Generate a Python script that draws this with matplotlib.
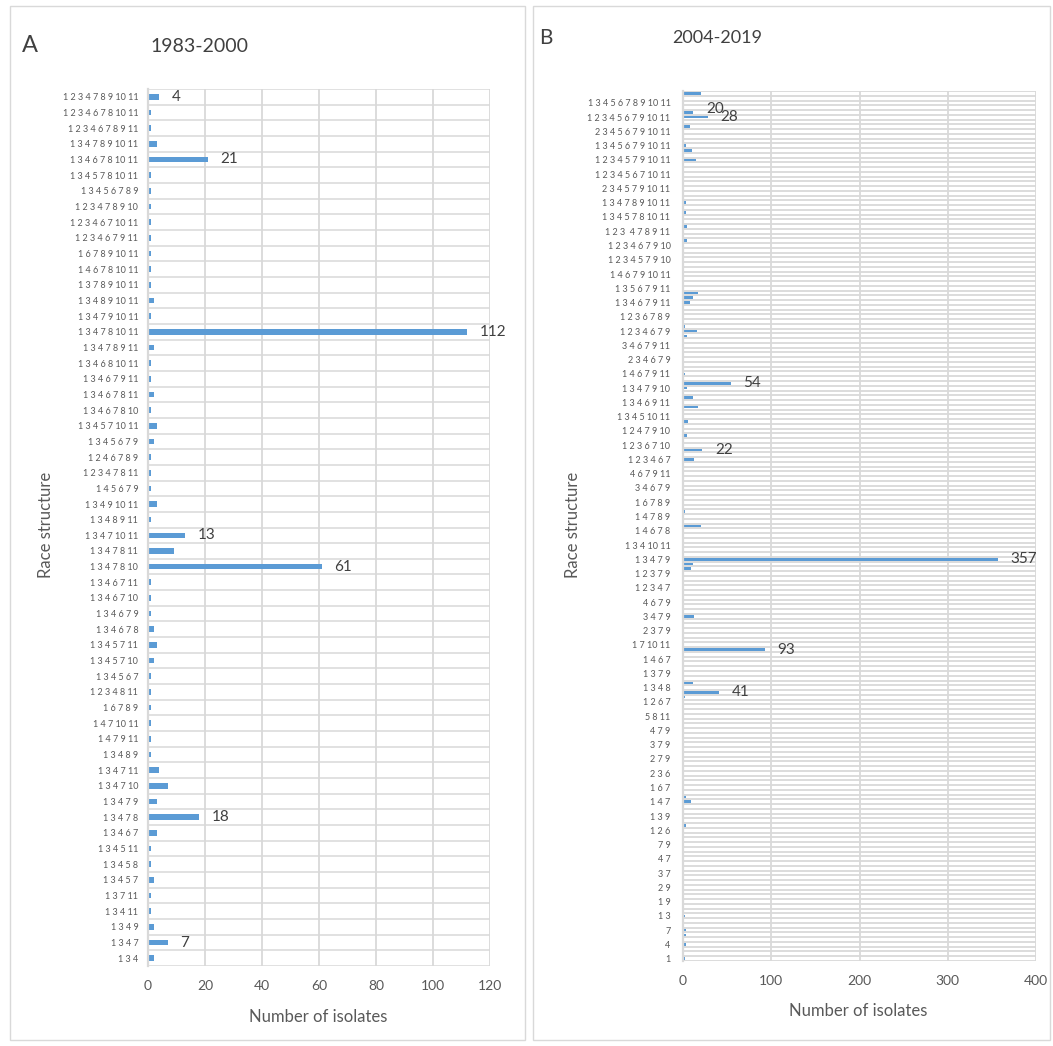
import matplotlib
matplotlib.use("Agg")
import matplotlib.pyplot as plt
import numpy as np
from matplotlib.patches import Rectangle

plt.rcParams['font.family'] = ['Lato', 'DejaVu Sans']

# Panel A, 1983-2000 (bottom to top)
races_a = [
    "1 3 4", "1 3 4 7", "1 3 4 9", "1 3 4 11", "1 3 7 11", "1 3 4 5 7",
    "1 3 4 5 8", "1 3 4 5 11", "1 3 4 6 7", "1 3 4 7 8", "1 3 4 7 9",
    "1 3 4 7 10", "1 3 4 7 11", "1 3 4 8 9", "1 4 7 9 11", "1 4 7 10 11",
    "1 6 7 8 9", "1 2 3 4 8 11", "1 3 4 5 6 7", "1 3 4 5 7 10",
    "1 3 4 5 7 11", "1 3 4 6 7 8", "1 3 4 6 7 9", "1 3 4 6 7 10",
    "1 3 4 6 7 11", "1 3 4 7 8 10", "1 3 4 7 8 11", "1 3 4 7 10 11",
    "1 3 4 8 9 11", "1 3 4 9 10 11", "1 4 5 6 7 9", "1 2 3 4 7 8 11",
    "1 2 4 6 7 8 9", "1 3 4 5 6 7 9", "1 3 4 5 7 10 11", "1 3 4 6 7 8 10",
    "1 3 4 6 7 8 11", "1 3 4 6 7 9 11", "1 3 4 6 8 10 11", "1 3 4 7 8 9 11",
    "1 3 4 7 8 10 11", "1 3 4 7 9 10 11", "1 3 4 8 9 10 11",
    "1 3 7 8 9 10 11", "1 4 6 7 8 10 11", "1 6 7 8 9 10 11",
    "1 2 3 4 6 7 9 11", "1 2 3 4 6 7 10 11", "1 2 3 4 7 8 9 10",
    "1 3 4 5 6 7 8 9", "1 3 4 5 7 8 10 11", "1 3 4 6 7 8 10 11",
    "1 3 4 7 8 9 10 11", "1 2 3 4 6 7 8 9 11", "1 2 3 4 6 7 8 10 11",
    "1 2 3 4 7 8 9 10 11",
]
counts_a = [2, 7, 2, 1, 1, 2, 1, 1, 3, 18, 3, 7, 4, 1, 1, 1, 1, 1, 1, 2,
            3, 2, 1, 1, 1, 61, 9, 13, 1, 3, 1, 1, 1, 2, 3, 1, 2, 1, 1, 2,
            112, 1, 2, 1, 1, 1, 1, 1, 1, 1, 1, 21, 3, 1, 1, 4]
labelled_a = [55, 51, 40, 27, 25, 9, 1]

# Panel B, 2004-2019: 183 race structures, only every third one is named on the axis
labels_b = [
    "1", "4", "7", "1 3", "1 9", "2 9", "3 7", "4 7", "7 9", "1 2 6",
    "1 3 9", "1 4 7", "1 6 7", "2 3 6", "2 7 9", "3 7 9", "4 7 9", "5 8 11",
    "1 2 6 7", "1 3 4 8", "1 3 7 9", "1 4 6 7", "1 7 10 11", "2 3 7 9",
    "3 4 7 9", "4 6 7 9", "1 2 3 4 7", "1 2 3 7 9", "1 3 4 7 9",
    "1 3 4 10 11", "1 4 6 7 8", "1 4 7 8 9", "1 6 7 8 9", "3 4 6 7 9",
    "4 6 7 9 11", "1 2 3 4 6 7", "1 2 3 6 7 10", "1 2 4 7 9 10",
    "1 3 4 5 10 11", "1 3 4 6 9 11", "1 3 4 7 9 10", "1 4 6 7 9 11",
    "2 3 4 6 7 9", "3 4 6 7 9 11", "1 2 3 4 6 7 9", "1 2 3 6 7 8 9",
    "1 3 4 6 7 9 11", "1 3 5 6 7 9 11", "1 4 6 7 9 10 11",
    "1 2 3 4 5 7 9 10", "1 2 3 4 6 7 9 10", "1 2 3  4 7 8 9 11",
    "1 3 4 5 7 8 10 11", "1 3 4 7 8 9 10 11", "2 3 4 5 7 9 10 11",
    "1 2 3 4 5 6 7 10 11", "1 2 3 4 5 7 9 10 11", "1 3 4 5 6 7 9 10 11",
    "2 3 4 5 6 7 9 10 11", "1 2 3 4 5 6 7 9 10 11",
    "1 3 4 5 6 7 8 9 10 11",
]
counts_b = [
    2, 0, 1, 3, 0, 3, 3, 1, 0, 2, 1, 1, 0, 1, 0, 0, 0, 1, 1, 0,
    0, 1, 0, 0, 0, 0, 0, 0, 3, 1, 1, 0, 0, 9, 3, 1, 0, 1, 0, 0,
    0, 0, 0, 0, 1, 1, 0, 0, 1, 0, 0, 0, 0, 1, 0, 2, 41, 1, 11, 1,
    1, 0, 0, 1, 0, 93, 0, 0, 1, 0, 0, 1, 12, 0, 0, 0, 0, 0, 1, 0,
    0, 0, 9, 11, 357, 1, 0, 0, 0, 0, 1, 20, 0, 1, 2, 1, 0, 1, 0, 0,
    0, 0, 1, 0, 0, 13, 0, 22, 0, 0, 5, 0, 0, 6, 0, 0, 17, 1, 11, 0,
    5, 54, 0, 2, 1, 0, 0, 0, 0, 0, 0, 4, 16, 2, 1, 1, 0, 0, 8, 11,
    17, 0, 0, 1, 1, 0, 0, 0, 0, 0, 0, 5, 0, 0, 5, 0, 0, 3, 0, 3,
    1, 0, 1, 0, 1, 1, 1, 1, 15, 0, 10, 3, 1, 0, 1, 8, 1, 28, 11, 1,
    1, 0, 20,
]
labelled_b = {182: -11, 177: 0, 121: 0, 107: 0, 84: 0, 65: 0, 56: 0}

bar_color = '#5B9BD5'
grid_color = '#D9D9D9'
text_color = '#595959'
label_color = '#404040'

fig = plt.figure(figsize=(10.53, 10.46), dpi=100)

# chart area borders
for x0, w in [(10, 515), (533, 517)]:
    fig.patches.append(Rectangle((x0 / 1053, 6 / 1046), w / 1053, 1034 / 1046,
                                 transform=fig.transFigure, fill=False,
                                 edgecolor=grid_color, lw=1.0))


def style_axes(ax, n, grid_lw):
    ax.set_ylim(-0.5, n - 0.5)
    ax.set_yticks(np.arange(-0.5, n, 1.0), minor=True)
    ax.grid(axis='y', which='minor', color=grid_color, lw=grid_lw)
    ax.grid(axis='x', which='major', color=grid_color, lw=1.3)
    ax.set_axisbelow(True)
    for s in ['top', 'right', 'bottom']:
        ax.spines[s].set_visible(False)
    ax.spines['left'].set_color(grid_color)
    ax.spines['left'].set_linewidth(1.6)
    ax.tick_params(axis='y', which='both', length=0, pad=7,
                   labelsize=6.5, labelcolor=text_color)
    ax.tick_params(axis='x', length=0, pad=10, labelsize=10, labelcolor=text_color)


# ---- panel A
axA = fig.add_axes([148 / 1053, 80 / 1046, 342 / 1053, 877 / 1046])
ya = np.arange(len(races_a))
axA.barh(ya, counts_a, height=0.36, color=bar_color)
style_axes(axA, len(races_a), 1.1)
axA.set_yticks(ya)
axA.set_yticklabels(races_a)
axA.set_xlim(0, 120)
axA.set_xticks(np.arange(0, 121, 20))
for i in labelled_a:
    axA.annotate(str(counts_a[i]), (counts_a[i], i), xytext=(9, 0),
                 textcoords='offset points', va='center', ha='left',
                 fontsize=11, color=label_color)
axA.set_xlabel("Number of isolates", fontsize=12, color=text_color)
axA.xaxis.set_label_coords(0.497, -0.049)
axA.set_ylabel("Race structure", fontsize=12, color=text_color)
axA.yaxis.set_label_coords(-0.275, 0.503)

# ---- panel B
axB = fig.add_axes([683 / 1053, 85 / 1046, 353 / 1053, 870 / 1046])
yb = np.arange(len(counts_b))
axB.barh(yb, counts_b, height=0.55, color=bar_color)
style_axes(axB, len(counts_b), 1.3)
axB.set_yticks(yb[::3])
axB.set_yticklabels(labels_b)
axB.tick_params(axis='y', pad=9)
axB.set_xlim(0, 400)
axB.set_xticks(np.arange(0, 401, 100))
for i, dy in labelled_b.items():
    axB.annotate(str(counts_b[i]), (counts_b[i], i), xytext=(9 if dy == 0 else 4, dy),
                 textcoords='offset points', va='center', ha='left',
                 fontsize=11, color=label_color)
axB.set_xlabel("Number of isolates", fontsize=12, color=text_color)
axB.xaxis.set_label_coords(0.496, -0.048)
axB.set_ylabel("Race structure", fontsize=12, color=text_color)
axB.yaxis.set_label_coords(-0.29, 0.501)

# panel titles
fig.text(22 / 1053, 1 - 46 / 1046, "A", fontsize=17, color=label_color, va='center')
fig.text(150 / 1053, 1 - 46 / 1046, "1983-2000", fontsize=14, color=label_color, va='center')
fig.text(539 / 1053, 1 - 38 / 1046, "B", fontsize=15, color=label_color, va='center')
fig.text(672 / 1053, 1 - 38 / 1046, "2004-2019", fontsize=13, color=label_color, va='center')

fig.savefig("out.png", dpi=100)
